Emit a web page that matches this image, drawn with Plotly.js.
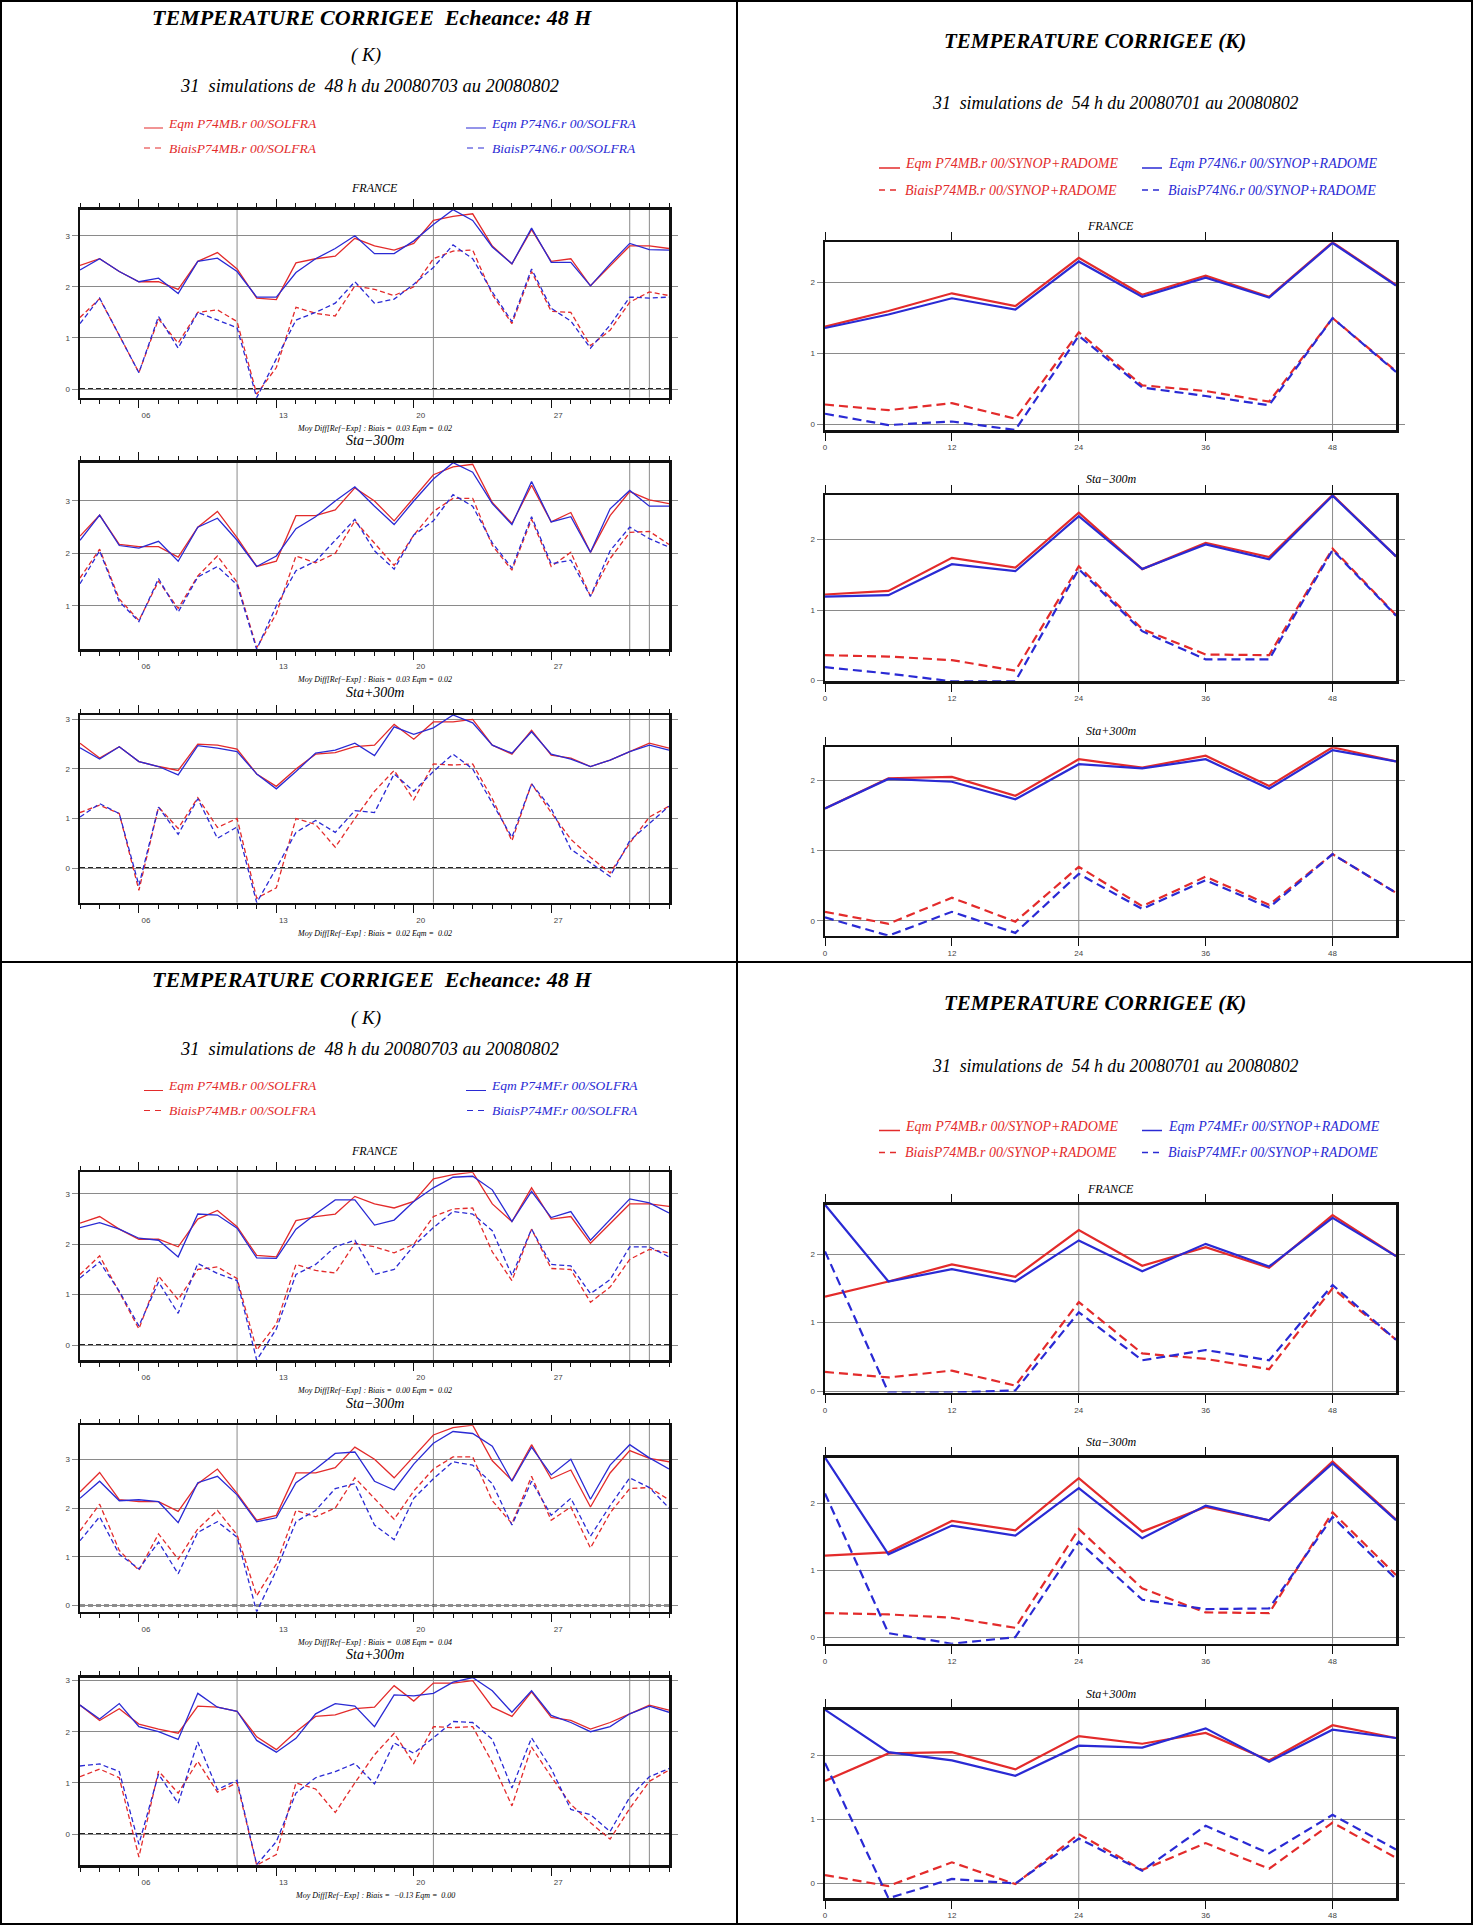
<!DOCTYPE html>
<html>
<head>
<meta charset="utf-8">
<script src="https://cdn.plot.ly/plotly-3.0.1.min.js"></script>
<style>
  html, body { margin: 0; padding: 0; background: #fff; }
  #fig { width: 1473px; height: 1925px; }
</style>
</head>
<body>
<div id="fig"></div>
<script>
// ---------- categories ----------
const days = ['2008-07-03','2008-07-04','2008-07-05','2008-07-06','2008-07-07','2008-07-08','2008-07-09',
  '2008-07-10','2008-07-11','2008-07-12','2008-07-13','2008-07-14','2008-07-15','2008-07-16','2008-07-17',
  '2008-07-18','2008-07-19','2008-07-20','2008-07-21','2008-07-22','2008-07-23','2008-07-24','2008-07-25',
  '2008-07-26','2008-07-27','2008-07-28','2008-07-29','2008-07-30','2008-07-31','2008-08-01','2008-08-02'];
const dayTickVals = ['2008-07-06','2008-07-13','2008-07-20','2008-07-27'];
const dayTickText = ['06','13','20','27'];
const markDays = ['2008-07-11','2008-07-21','2008-07-31','2008-08-01'];
const hours = [0,6,12,18,24,30,36,42,48,54];
const hourTicks = [0,12,24,36,48];
const markHours = [24,48];

// ---------- daily scores, 48 h forecast (K) ----------
// reference run P74MB
const eqmMB_fr  = [2.42,2.55,2.30,2.10,2.10,1.95,2.50,2.67,2.35,1.78,1.75,2.47,2.55,2.60,2.95,2.80,2.72,2.85,3.30,3.38,3.43,2.80,2.45,3.12,2.50,2.55,2.02,2.40,2.80,2.80,2.75];
const biasMB_fr = [1.40,1.77,1.05,0.32,1.37,0.90,1.50,1.55,1.32,-0.10,0.42,1.60,1.48,1.43,2.02,1.95,1.83,2.00,2.55,2.70,2.72,1.85,1.28,2.30,1.52,1.50,0.85,1.15,1.70,1.90,1.83];
const eqmMB_lo  = [2.33,2.73,2.17,2.13,2.13,1.93,2.50,2.80,2.30,1.75,1.85,2.72,2.72,2.83,3.25,3.00,2.62,3.05,3.50,3.65,3.70,2.97,2.57,3.30,2.60,2.78,2.02,2.72,3.18,3.02,2.95];
const biasMB_lo = [1.53,2.08,1.13,0.72,1.47,0.95,1.57,1.95,1.45,0.20,0.85,1.95,1.82,2.00,2.62,2.20,1.77,2.35,2.80,3.05,3.05,2.15,1.68,2.65,1.75,2.02,1.18,1.90,2.40,2.42,2.17];
const eqmMB_hi  = [2.52,2.22,2.45,2.15,2.05,1.97,2.50,2.48,2.40,1.90,1.65,2.00,2.30,2.33,2.45,2.48,2.90,2.60,2.95,2.95,3.00,2.48,2.30,2.78,2.28,2.22,2.05,2.18,2.35,2.52,2.42];
const biasMB_hi = [1.12,1.27,1.10,-0.45,1.23,0.80,1.42,0.82,1.00,-0.61,-0.40,1.00,0.88,0.42,1.00,1.55,1.97,1.38,2.10,2.08,2.10,1.40,0.55,1.70,1.12,0.58,0.22,-0.10,0.50,1.03,1.25];
// experiment P74N6
const eqmN6_fr  = [2.33,2.55,2.30,2.10,2.17,1.87,2.50,2.56,2.30,1.80,1.80,2.28,2.55,2.75,3.00,2.65,2.65,2.90,3.22,3.51,3.30,2.78,2.45,3.15,2.48,2.48,2.02,2.45,2.85,2.73,2.72];
const biasN6_fr = [1.28,1.78,1.05,0.32,1.42,0.80,1.50,1.35,1.20,-0.17,0.60,1.35,1.50,1.68,2.10,1.68,1.76,2.05,2.38,2.82,2.55,1.90,1.32,2.35,1.58,1.33,0.80,1.25,1.80,1.78,1.80];
const eqmN6_lo  = [2.25,2.73,2.15,2.10,2.23,1.85,2.50,2.67,2.25,1.75,1.95,2.47,2.70,3.00,3.27,2.90,2.55,3.00,3.42,3.73,3.55,2.95,2.55,3.37,2.60,2.70,2.02,2.85,3.20,2.90,2.90];
const biasN6_lo = [1.42,2.05,1.08,0.70,1.52,0.88,1.55,1.75,1.40,0.17,1.00,1.67,1.85,2.25,2.65,2.05,1.70,2.35,2.62,3.12,2.90,2.20,1.72,2.70,1.80,1.87,1.18,2.05,2.50,2.28,2.12];
const eqmN6_hi  = [2.43,2.20,2.45,2.15,2.05,1.88,2.47,2.42,2.35,1.90,1.60,1.95,2.32,2.38,2.52,2.27,2.85,2.70,2.83,3.09,2.93,2.48,2.32,2.75,2.30,2.20,2.05,2.18,2.35,2.48,2.38];
const biasN6_hi = [1.03,1.30,1.10,-0.35,1.23,0.68,1.40,0.60,0.83,-0.70,0.00,0.72,0.96,0.72,1.16,1.12,1.90,1.55,1.95,2.30,2.00,1.30,0.62,1.70,1.20,0.38,0.10,-0.17,0.55,0.90,1.25];
// experiment P74MF
const eqmMF_fr  = [2.33,2.43,2.30,2.12,2.08,1.75,2.60,2.58,2.32,1.73,1.72,2.30,2.60,2.88,2.88,2.38,2.48,2.85,3.12,3.33,3.35,3.08,2.45,3.05,2.53,2.65,2.08,2.50,2.90,2.82,2.62];
const biasMF_fr = [1.33,1.65,1.07,0.38,1.25,0.63,1.62,1.42,1.28,-0.30,0.32,1.40,1.60,1.95,2.08,1.40,1.50,1.97,2.33,2.65,2.60,2.27,1.38,2.30,1.60,1.57,1.02,1.30,1.95,1.95,1.75];
const eqmMF_lo  = [2.20,2.55,2.15,2.17,2.13,1.70,2.52,2.65,2.27,1.72,1.80,2.52,2.80,3.12,3.15,2.55,2.37,2.90,3.33,3.57,3.53,3.27,2.55,3.25,2.68,3.00,2.18,2.88,3.30,3.03,2.80];
const biasMF_lo = [1.33,1.82,1.05,0.75,1.30,0.65,1.50,1.72,1.40,-0.13,0.72,1.72,1.95,2.40,2.50,1.65,1.35,2.20,2.60,2.95,2.88,2.50,1.65,2.55,1.85,2.20,1.42,2.05,2.62,2.42,2.00];
const eqmMF_hi  = [2.52,2.25,2.55,2.10,2.00,1.85,2.75,2.48,2.40,1.83,1.60,1.87,2.35,2.55,2.50,2.10,2.72,2.70,2.75,2.97,3.06,2.80,2.38,2.80,2.32,2.18,2.00,2.10,2.35,2.50,2.38];
const biasMF_hi = [1.33,1.37,1.22,-0.20,1.17,0.60,1.80,0.87,1.05,-0.60,-0.15,0.80,1.10,1.22,1.38,0.98,1.78,1.58,1.88,2.20,2.18,1.85,0.90,1.88,1.28,0.48,0.38,0.05,0.72,1.12,1.28];

// ---------- scores by forecast range (K) ----------
const eqmMB_fr_h  = [1.38,1.60,1.85,1.67,2.35,1.83,2.10,1.80,2.57,1.97];
const biasMB_fr_h = [0.28,0.20,0.30,0.08,1.30,0.55,0.47,0.32,1.50,0.75];
const eqmMB_lo_h  = [1.22,1.27,1.74,1.60,2.38,1.58,1.95,1.75,2.63,1.76];
const biasMB_lo_h = [0.36,0.34,0.29,0.14,1.62,0.73,0.37,0.36,1.87,0.93];
const eqmMB_hi_h  = [1.60,2.03,2.05,1.78,2.30,2.18,2.35,1.92,2.47,2.27];
const biasMB_hi_h = [0.13,-0.04,0.33,-0.01,0.77,0.21,0.63,0.23,0.95,0.40];
const eqmN6_fr_h  = [1.36,1.55,1.78,1.62,2.30,1.80,2.07,1.79,2.56,1.96];
const biasN6_fr_h = [0.15,-0.01,0.04,-0.08,1.25,0.52,0.40,0.27,1.50,0.74];
const eqmN6_lo_h  = [1.19,1.21,1.65,1.55,2.33,1.58,1.93,1.72,2.62,1.76];
const biasN6_lo_h = [0.19,0.10,-0.01,-0.01,1.58,0.70,0.30,0.30,1.85,0.92];
const eqmN6_hi_h  = [1.60,2.02,1.98,1.73,2.23,2.17,2.30,1.88,2.43,2.27];
const biasN6_hi_h = [0.05,-0.21,0.13,-0.17,0.67,0.17,0.58,0.19,0.95,0.40];
const eqmMF_fr_h  = [2.72,1.60,1.78,1.60,2.20,1.75,2.15,1.82,2.53,1.97];
const biasMF_fr_h = [2.04,-0.02,-0.02,0.01,1.15,0.45,0.60,0.45,1.55,0.75];
const eqmMF_lo_h  = [2.69,1.24,1.67,1.52,2.23,1.48,1.97,1.75,2.60,1.75];
const biasMF_lo_h = [2.15,0.06,-0.10,0.00,1.43,0.56,0.42,0.43,1.80,0.87];
const eqmMF_hi_h  = [2.71,2.05,1.92,1.68,2.15,2.12,2.42,1.90,2.40,2.27];
const biasMF_hi_h = [1.88,-0.23,0.07,0.00,0.70,0.20,0.90,0.47,1.07,0.53];

// ---------- texts ----------
const domainNames = ['FRANCE', 'Sta\u2212300m', 'Sta+300m'];
const diffN6 = [['0.03','0.02'], ['0.03','0.02'], ['0.02','0.02']];
const diffMF = [['0.00','0.02'], ['0.08','0.04'], ['\u22120.13','0.00']];

// ---------- drawing ----------
const W = 1473, H = 1925, HALF = 962.5;
const RED = '#e32b2b', BLUE = '#2a2ad4';
const SERIF = 'Liberation Serif, Times New Roman, serif';
const SANS = 'Liberation Sans, Arial, sans-serif';
const fx = x => x / W;
const fy = y => 1 - y / H;

// plot-area extents (px) for the daily and forecast-range columns
const LEFT = {x0: 80, x1: 669, mid: 374.5};
const RIGHT = {x0: 825, x1: 1396, mid: 1110.5};

const traces = [], shapes = [], annotations = [];
const layout = {
  width: W, height: H,
  margin: {l: 0, r: 0, t: 0, b: 0},
  paper_bgcolor: '#fff', plot_bgcolor: '#fff',
  showlegend: false
};

function text(t, x, y, size, opt) {
  opt = opt || {};
  annotations.push({
    text: t, xref: 'paper', yref: 'paper', x: fx(x), y: fy(y),
    xanchor: opt.anchor || 'center', yanchor: 'middle', showarrow: false,
    font: {family: SERIF, size: size, color: opt.color || '#000',
           style: 'italic', weight: opt.bold ? 'bold' : 'normal'}
  });
}

function seg(x0, x1, y, color, width, dash) {
  shapes.push({type: 'line', xref: 'paper', yref: 'paper',
    x0: fx(x0), x1: fx(x1), y0: fy(y), y1: fy(y),
    line: {color: color, width: width, dash: dash || 'solid'}});
}

let n = 0;
function subplot(kind, box, series) {
  n++;
  const sfx = n === 1 ? '' : String(n);
  const xr = 'x' + sfx, yr = 'y' + sfx;
  const xs = kind === 'day' ? days : hours;
  const all = [].concat(...series.map(s => s.y));
  const lo = Math.min(...all), hi = Math.max(...all);
  const thin = kind === 'day';

  series.forEach(s => traces.push({
    type: 'scatter', mode: 'lines', x: xs, y: s.y, xaxis: xr, yaxis: yr,
    hoverinfo: 'skip',
    line: {color: s.color, width: thin ? 1.3 : 2.2,
           dash: s.dash ? (thin ? '5px,3px' : '9px,5px') : 'solid'}
  }));

  const common = {
    showline: true, linecolor: '#111', linewidth: 2.5,
    mirror: 'ticks', ticks: 'outside', zeroline: false, fixedrange: true,
    tickfont: {family: SANS, size: 8, color: '#444'}
  };

  const xa = Object.assign({}, common, {
    anchor: yr, domain: [fx(box.x0), fx(box.x1)], showgrid: false,
    tickcolor: '#111', tickwidth: 1, ticklen: 8, tickmode: 'array'
  });
  if (kind === 'day') {
    Object.assign(xa, {
      type: 'date', range: [days[0], days[days.length - 1]],
      tickvals: dayTickVals, ticktext: dayTickText, ticklabelshift: 7,
      minor: {tickmode: 'linear', tick0: days[0], dtick: 86400000,
              ticks: 'outside', ticklen: 4, tickcolor: '#111', showgrid: false}
    });
  } else {
    Object.assign(xa, {type: 'linear', range: [0, 54], tickvals: hourTicks});
  }

  const ya = Object.assign({}, common, {
    anchor: xr, domain: [fy(box.y1), fy(box.y0)], range: [lo, hi],
    tickmode: 'array', tickvals: kind === 'day' ? [0, 1, 2, 3] : [0, 1, 2],
    showgrid: true, gridcolor: '#8a8a8a', gridwidth: 1,
    tickcolor: '#8a8a8a', ticklen: 6
  });

  layout['xaxis' + sfx] = xa;
  layout['yaxis' + sfx] = ya;

  // vertical reference lines
  (kind === 'day' ? markDays : markHours).forEach(v => shapes.push({
    type: 'line', xref: xr, yref: yr + ' domain', x0: v, x1: v, y0: 0, y1: 1,
    line: {color: '#8a8a8a', width: 1}, layer: 'below'
  }));
  // dashed zero line on the daily plots
  if (kind === 'day' && lo < 0) shapes.push({
    type: 'line', xref: xr + ' domain', yref: yr, x0: 0, x1: 1, y0: 0, y1: 0,
    line: {color: '#222', width: 2, dash: '5px,3px'}, layer: 'below'
  });
}

const leftBoxes = [[209.7, 397.7], [462.7, 649.3], [715, 902.7]];
const rightBoxes = [[242.3, 430], [495, 681.3], [747.3, 935.7]];

function dailyPanel(dy, exp, sets, diffs) {
  text('TEMPERATURE CORRIGEE\u00a0 Echeance: 48 H', 372, 17 + dy, 22, {bold: true});
  text('( K)', 366, 55 + dy, 19);
  text('31\u00a0 simulations de\u00a0 48 h du 20080703 au 20080802', 370, 86 + dy, 18.4);
  // key
  seg(144, 163, 128 + dy, RED, 1);
  text('Eqm P74MB.r 00/SOLFRA', 166, 123 + dy, 13.5, {anchor: 'left', color: RED});
  seg(466, 486, 128 + dy, BLUE, 1);
  text('Eqm ' + exp + '.r 00/SOLFRA', 489, 123 + dy, 13.5, {anchor: 'left', color: BLUE});
  seg(144, 163, 148 + dy, RED, 1, '6px,5px');
  text('BiaisP74MB.r 00/SOLFRA', 167, 148 + dy, 13.5, {anchor: 'left', color: RED});
  seg(467, 487, 148 + dy, BLUE, 1, '6px,5px');
  text('Biais' + exp + '.r 00/SOLFRA', 490, 148 + dy, 13.5, {anchor: 'left', color: BLUE});

  text(domainNames[0], LEFT.mid, 188 + dy, 12);
  sets.forEach((s, i) => {
    const b = leftBoxes[i];
    subplot('day', {x0: LEFT.x0, x1: LEFT.x1, y0: b[0] + dy, y1: b[1] + dy}, [
      {y: s[0], color: RED}, {y: s[1], color: RED, dash: true},
      {y: s[2], color: BLUE}, {y: s[3], color: BLUE, dash: true}
    ]);
    text('Moy Diff[Ref\u2212Exp] : Biais =\u00a0 ' + diffs[i][0] + ' Eqm =\u00a0 ' + diffs[i][1],
         LEFT.mid, b[1] + 30.5 + dy, 8);
    if (i < 2) text(domainNames[i + 1], LEFT.mid, b[1] + 43 + dy, 14);
  });
}

function rangePanel(dy, exp, sets) {
  text('TEMPERATURE CORRIGEE (K)', 1095, 41 + dy, 21, {bold: true});
  text('31\u00a0 simulations de\u00a0 54 h du 20080701 au 20080802', 1115, 103 + dy, 17.8);
  seg(879, 900, 168 + dy, RED, 1.5);
  text('Eqm P74MB.r 00/SYNOP+RADOME', 903, 164 + dy, 14, {anchor: 'left', color: RED});
  seg(1142, 1162, 168 + dy, BLUE, 1.5);
  text('Eqm ' + exp + '.r 00/SYNOP+RADOME', 1166, 164 + dy, 14, {anchor: 'left', color: BLUE});
  seg(879, 900, 190 + dy, RED, 1.5, '6px,5px');
  text('BiaisP74MB.r 00/SYNOP+RADOME', 903, 190 + dy, 14, {anchor: 'left', color: RED});
  seg(1142, 1162, 190 + dy, BLUE, 1.5, '6px,5px');
  text('Biais' + exp + '.r 00/SYNOP+RADOME', 1166, 190 + dy, 14, {anchor: 'left', color: BLUE});

  sets.forEach((s, i) => {
    const b = rightBoxes[i];
    text(domainNames[i], RIGHT.mid, b[0] - 16 + dy, 12);
    subplot('hour', {x0: RIGHT.x0, x1: RIGHT.x1, y0: b[0] + dy, y1: b[1] + dy}, [
      {y: s[0], color: RED}, {y: s[1], color: RED, dash: true},
      {y: s[2], color: BLUE}, {y: s[3], color: BLUE, dash: true}
    ]);
  });
}

dailyPanel(0, 'P74N6', [
  [eqmMB_fr, biasMB_fr, eqmN6_fr, biasN6_fr],
  [eqmMB_lo, biasMB_lo, eqmN6_lo, biasN6_lo],
  [eqmMB_hi, biasMB_hi, eqmN6_hi, biasN6_hi]
], diffN6);
rangePanel(0, 'P74N6', [
  [eqmMB_fr_h, biasMB_fr_h, eqmN6_fr_h, biasN6_fr_h],
  [eqmMB_lo_h, biasMB_lo_h, eqmN6_lo_h, biasN6_lo_h],
  [eqmMB_hi_h, biasMB_hi_h, eqmN6_hi_h, biasN6_hi_h]
]);
dailyPanel(HALF, 'P74MF', [
  [eqmMB_fr, biasMB_fr, eqmMF_fr, biasMF_fr],
  [eqmMB_lo, biasMB_lo, eqmMF_lo, biasMF_lo],
  [eqmMB_hi, biasMB_hi, eqmMF_hi, biasMF_hi]
], diffMF);
rangePanel(HALF, 'P74MF', [
  [eqmMB_fr_h, biasMB_fr_h, eqmMF_fr_h, biasMF_fr_h],
  [eqmMB_lo_h, biasMB_lo_h, eqmMF_lo_h, biasMF_lo_h],
  [eqmMB_hi_h, biasMB_hi_h, eqmMF_hi_h, biasMF_hi_h]
]);

// table frame around the four panels
shapes.push({type: 'rect', xref: 'paper', yref: 'paper', x0: fx(1), x1: fx(W - 1), y0: fy(H - 1), y1: fy(1),
             line: {color: '#000', width: 2}});
shapes.push({type: 'line', xref: 'paper', yref: 'paper', x0: fx(737), x1: fx(737), y0: 0, y1: 1,
             line: {color: '#000', width: 2}});
seg(0, W, 962, '#000', 2);

layout.shapes = shapes;
layout.annotations = annotations;

Plotly.newPlot('fig', traces, layout, {displayModeBar: false, staticPlot: true});
</script>
</body>
</html>
